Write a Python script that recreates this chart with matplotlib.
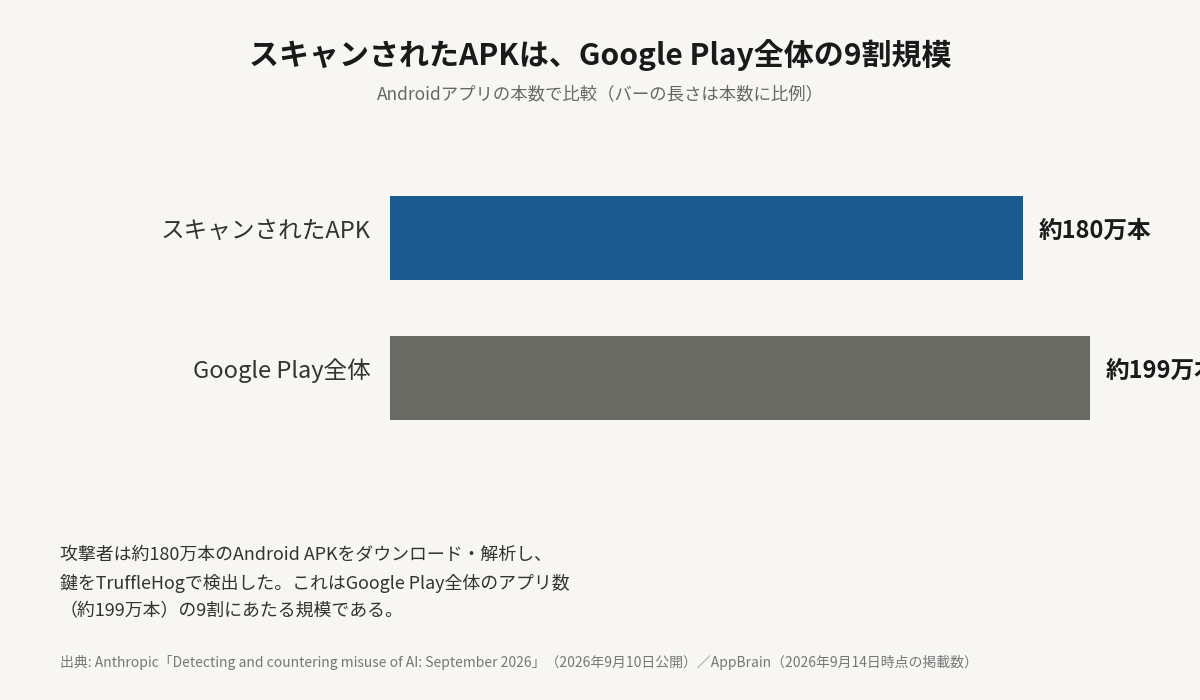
import matplotlib
matplotlib.use("Agg")
import matplotlib.pyplot as plt

plt.rcParams['font.family'] = ['Noto Sans CJK JP', 'DejaVu Sans']

categories = ["スキャンされたAPK", "Google Play全体"]
values = [180, 199]
value_labels = ["約180万本", "約199万本"]
colors = ["#1b5a8e", "#6a6a65"]

bg = "#f7f6f3"
fig = plt.figure(figsize=(12, 7), dpi=100, facecolor=bg)
ax = fig.add_axes([390/1200, 1-448/700, 810/1200, 280/700])
ax.set_facecolor(bg)
ax.barh(range(len(values)), values, height=0.6, color=colors)
ax.set_xlim(0, 810/3.517)
ax.set_ylim(1.5, -0.5)
for s in ax.spines.values():
    s.set_visible(False)
ax.set_xticks([])
ax.set_yticks([])
for i, cat in enumerate(categories):
    ax.annotate(cat, (0, i), xytext=(-14, 5), textcoords="offset points",
                va="center", ha="right", fontsize=17, color="#333333",
                annotation_clip=False)
for i, (v, lab) in enumerate(zip(values, value_labels)):
    ax.annotate(lab, (v, i), xytext=(11, 5), textcoords="offset points",
                va="center", ha="left", fontsize=17, fontweight="bold",
                color="#1a1a1a", annotation_clip=False)

fig.text(0.5, 1-55/700, "スキャンされたAPKは、Google Play全体の9割規模",
         ha="center", va="center", fontsize=21.6, fontweight="bold", color="#1a1a1a")
fig.text(0.5, 1-94/700, "Androidアプリの本数で比較（バーの長さは本数に比例）",
         ha="center", va="center", fontsize=12.5, color="#666666")
fig.text(60/1200, 1-583/700,
         "攻撃者は約180万本のAndroid APKをダウンロード・解析し、\n"
         "鍵をTruffleHogで検出した。これはGoogle Play全体のアプリ数\n"
         "（約199万本）の9割にあたる規模である。",
         ha="left", va="center", fontsize=12.9, color="#333333", linespacing=1.7)
fig.text(60/1200, 1-662/700,
         "出典: Anthropic「Detecting and countering misuse of AI: September 2026」（2026年9月10日公開）／AppBrain（2026年9月14日時点の掲載数）",
         ha="left", va="center", fontsize=10.0, color="#777777")

fig.savefig("out.png", dpi=100, facecolor=bg)
